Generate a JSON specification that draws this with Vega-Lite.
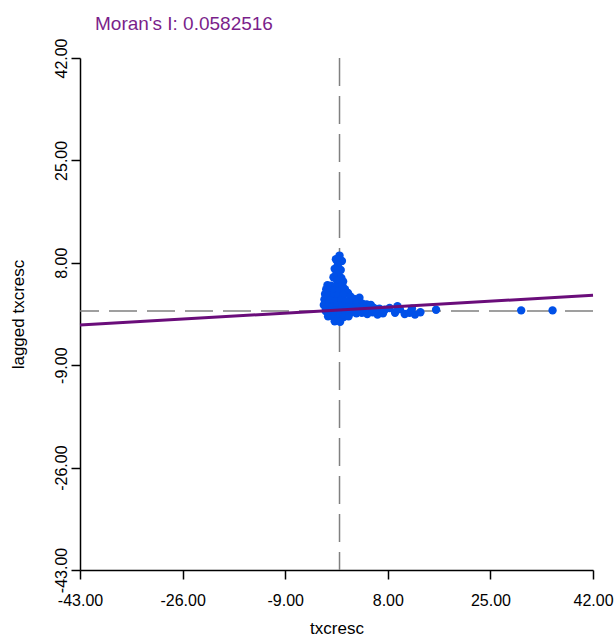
{
  "$schema": "https://vega.github.io/schema/vega-lite/v6.json",
  "width": 513,
  "height": 512,
  "autosize": "none",
  "padding": {"left": 80, "top": 58, "right": 23, "bottom": 68},
  "background": "white",
  "title": {"text": "Moran's I: 0.0582516", "anchor": "start", "frame": "group", "color": "#7B1F8B", "font": "Liberation Sans", "fontSize": 19, "fontWeight": "normal", "dx": 15, "offset": 4},
  "config": {
    "view": {"stroke": null},
    "axis": {"grid": false, "labelFlush": false, "labelOverlap": false, "domainColor": "#000000", "tickColor": "#000000", "labelFont": "Liberation Sans", "titleFont": "Liberation Sans", "labelColor": "#000000", "titleColor": "#000000", "labelFontSize": 16, "titleFontSize": 17, "titleFontWeight": "normal", "tickSize": 9, "domainWidth": 1.5, "tickWidth": 1.5}
  },
  "datasets": {
    "origin": [{"x": 0, "y": 0}],
    "points": [
      {"x": 0.0, "y": 9.2}, {"x": -0.6, "y": 8.6}, {"x": 0.4, "y": 8.3}, {"x": -0.3, "y": 7.6}, {"x": -0.8, "y": 7.0}, {"x": 0.2, "y": 6.8}, {"x": -0.5, "y": 6.2}, {"x": -1.0, "y": 5.6}, {"x": 0.3, "y": 5.5}, {"x": -0.4, "y": 5.0}, {"x": 0.6, "y": 4.9},
      {"x": -2.0, "y": 4.3}, {"x": -1.4, "y": 4.2}, {"x": -0.6, "y": 4.0}, {"x": 0.5, "y": 4.1}, {"x": -2.2, "y": 3.6}, {"x": -1.6, "y": 3.3}, {"x": -0.9, "y": 3.4}, {"x": 0.0, "y": 3.3}, {"x": 0.9, "y": 3.6}, {"x": 1.4, "y": 3.0},
      {"x": -2.4, "y": 2.8}, {"x": -1.8, "y": 2.5}, {"x": -1.0, "y": 2.4}, {"x": -0.2, "y": 2.6}, {"x": 0.7, "y": 2.7}, {"x": 1.8, "y": 2.4}, {"x": 2.4, "y": 2.0}, {"x": 3.3, "y": 2.2},
      {"x": -2.5, "y": 1.9}, {"x": -1.6, "y": 1.7}, {"x": -0.7, "y": 1.6}, {"x": 0.3, "y": 1.8}, {"x": 1.1, "y": 1.6}, {"x": 2.0, "y": 1.3}, {"x": 2.9, "y": 1.4}, {"x": 3.8, "y": 1.2}, {"x": 4.5, "y": 1.1}, {"x": 5.2, "y": 1.0},
      {"x": -2.6, "y": 1.0}, {"x": -1.9, "y": 0.8}, {"x": -1.1, "y": 0.7}, {"x": -0.3, "y": 0.9}, {"x": 0.5, "y": 0.8}, {"x": 1.4, "y": 0.6}, {"x": 2.3, "y": 0.5}, {"x": 3.1, "y": 0.6}, {"x": 4.0, "y": 0.4}, {"x": 4.8, "y": 0.3}, {"x": 5.7, "y": 0.5}, {"x": 6.6, "y": 0.4}, {"x": 7.5, "y": 0.2},
      {"x": -2.3, "y": 0.0}, {"x": -1.5, "y": -0.1}, {"x": -0.6, "y": 0.0}, {"x": 0.2, "y": -0.2}, {"x": 1.0, "y": -0.3}, {"x": 1.9, "y": -0.2}, {"x": 2.8, "y": -0.4}, {"x": 3.7, "y": -0.3}, {"x": 4.6, "y": -0.5}, {"x": 5.5, "y": -0.2}, {"x": 6.3, "y": -0.6}, {"x": 7.2, "y": -0.4},
      {"x": -1.9, "y": -0.9}, {"x": -1.0, "y": -1.0}, {"x": -0.2, "y": -1.2}, {"x": 0.7, "y": -1.0}, {"x": 1.5, "y": -0.9}, {"x": -0.8, "y": -1.7}, {"x": 0.1, "y": -1.8},
      {"x": 8.3, "y": 0.5}, {"x": 9.2, "y": -0.3}, {"x": 10.0, "y": 0.3}, {"x": 10.8, "y": -0.5}, {"x": 11.6, "y": -0.3}, {"x": 12.5, "y": -0.6}, {"x": 13.4, "y": -0.2}, {"x": 9.6, "y": 0.8}, {"x": 12.0, "y": 0.4},
      {"x": 16.0, "y": 0.2}, {"x": 30.1, "y": 0.1}, {"x": 35.3, "y": 0.1}
    ],
    "fit": [{"x": -43, "y": -2.33}, {"x": 42, "y": 2.62}]
  },
  "encoding": {
    "x": {"field": "x", "type": "quantitative", "title": "txcresc", "scale": {"domain": [-43, 42], "nice": false, "zero": false}, "axis": {"values": [-43, -26, -9, 8, 25, 42], "labelExpr": "replace(format(datum.value, '.2f'), '−', '-')", "labelPadding": 13, "titlePadding": 12}},
    "y": {"field": "y", "type": "quantitative", "title": "lagged txcresc", "scale": {"domain": [-43, 42], "nice": false, "zero": false}, "axis": {"values": [-43, -26, -9, 8, 25, 42], "labelExpr": "replace(format(datum.value, '.2f'), '−', '-')", "labelAngle": 270, "labelAlign": "center", "labelBaseline": "bottom", "labelPadding": 2, "titlePadding": 26}}
  },
  "layer": [
    {"data": {"name": "origin"}, "mark": {"type": "rule", "color": "#808080", "strokeDash": [28, 10], "strokeWidth": 1.5}, "encoding": {"x": {"field": "x", "type": "quantitative"}, "y": null}},
    {"data": {"name": "origin"}, "mark": {"type": "rule", "color": "#808080", "strokeDash": [28, 10], "strokeWidth": 1.5}, "encoding": {"y": {"field": "y", "type": "quantitative"}, "x": null}},
    {"data": {"name": "points"}, "mark": {"type": "circle", "color": "#0050E8", "opacity": 1, "size": 70}},
    {"data": {"name": "fit"}, "mark": {"type": "line", "color": "#6A0D7A", "strokeWidth": 3}}
  ]
}
